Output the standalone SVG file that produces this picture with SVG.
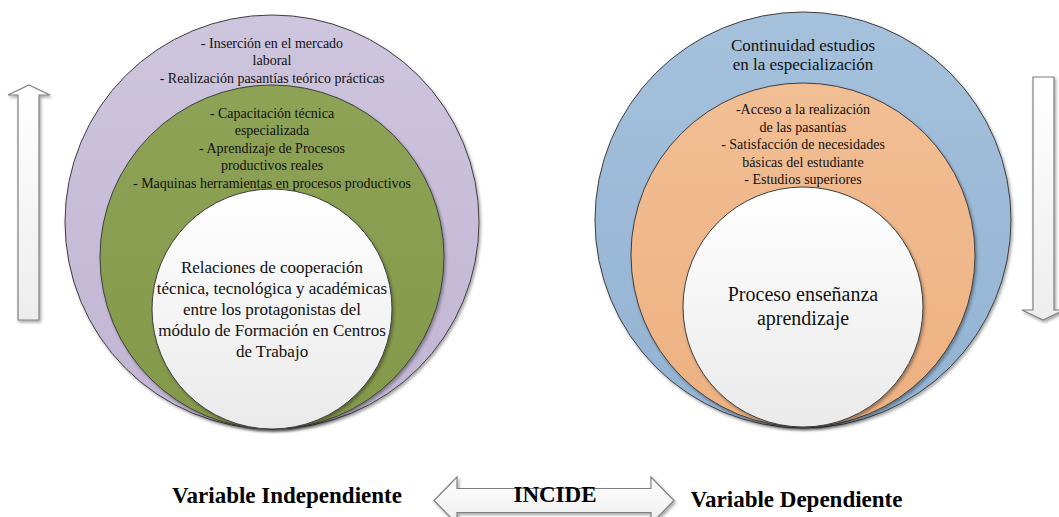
<svg xmlns="http://www.w3.org/2000/svg" width="1059" height="517" viewBox="0 0 1059 517">
<defs>
<linearGradient id="gPurple" x1="0" y1="0" x2="0" y2="1"><stop offset="0" stop-color="#CEC5DE"/><stop offset="1" stop-color="#C1B5D3"/></linearGradient>
<linearGradient id="gGreen" x1="0" y1="0" x2="0" y2="1"><stop offset="0" stop-color="#8FA357"/><stop offset="1" stop-color="#84984A"/></linearGradient>
<linearGradient id="gBlue" x1="0" y1="0" x2="0" y2="1"><stop offset="0" stop-color="#A5C1DC"/><stop offset="1" stop-color="#93B3D3"/></linearGradient>
<linearGradient id="gOrange" x1="0" y1="0" x2="0" y2="1"><stop offset="0" stop-color="#F2BE94"/><stop offset="1" stop-color="#EDB181"/></linearGradient>
<linearGradient id="gWhite" x1="0" y1="0" x2="0" y2="1"><stop offset="0" stop-color="#FFFFFF"/><stop offset="1" stop-color="#EAEAEA"/></linearGradient>
<linearGradient id="gArrowH" x1="0" y1="0" x2="1" y2="0"><stop offset="0" stop-color="#FFFFFF"/><stop offset="1" stop-color="#EDEDED"/></linearGradient>
<linearGradient id="gArrowV" x1="0" y1="0" x2="0" y2="1"><stop offset="0" stop-color="#FFFFFF"/><stop offset="1" stop-color="#EDEDED"/></linearGradient>
<filter id="shadow" x="-10%" y="-10%" width="120%" height="120%"><feDropShadow dx="1.5" dy="2" stdDeviation="1.5" flood-color="#000" flood-opacity="0.35"/></filter>
</defs>
<style>
.ring{stroke:#3F3F3F;stroke-width:1;filter:url(#shadow)}
.arrow{stroke:#7F7F7F;stroke-width:1.2;filter:url(#shadow)}
.t14{font-family:"Liberation Serif","Times New Roman",serif;font-size:14px;fill:#111;text-anchor:middle}
.t17{font-family:"Liberation Serif","Times New Roman",serif;font-size:17px;fill:#111;text-anchor:middle}
.t20{font-family:"Liberation Serif","Times New Roman",serif;font-size:20px;fill:#111;text-anchor:middle}
.tb{font-family:"Liberation Serif","Times New Roman",serif;font-size:23px;font-weight:bold;fill:#000;text-anchor:middle}
</style>
<rect width="1059" height="517" fill="#FFFFFF"/>

<g id="left-outer">
<circle class="ring" cx="272" cy="222" r="207" fill="url(#gPurple)"/>
<text class="t14" x="272" y="47.5">- Inserción en el mercado</text>
<text class="t14" x="272" y="65">laboral</text>
<text class="t14" x="272" y="82.5">- Realización pasantías teórico prácticas</text>
</g>
<g id="left-middle">
<circle class="ring" cx="272" cy="257" r="172" fill="url(#gGreen)"/>
<text class="t14" x="272" y="117.5">- Capacitación técnica</text>
<text class="t14" x="272" y="135">especializada</text>
<text class="t14" x="272" y="152.5">- Aprendizaje de Procesos</text>
<text class="t14" x="272" y="170">productivos reales</text>
<text class="t14" x="272" y="187.5">- Maquinas herramientas en procesos productivos</text>
</g>
<g id="left-inner">
<circle class="ring" cx="272" cy="309" r="120" fill="url(#gWhite)"/>
<text class="t17" x="272" y="273">Relaciones de cooperación</text>
<text class="t17" x="272" y="294">técnica, tecnológica y académicas</text>
<text class="t17" x="272" y="315">entre los protagonistas del</text>
<text class="t17" x="272" y="336">módulo de Formación en Centros</text>
<text class="t17" x="272" y="357">de Trabajo</text>
</g>

<g id="right-outer">
<circle class="ring" cx="803" cy="220" r="208" fill="url(#gBlue)"/>
<text class="t17" x="803" y="51">Continuidad estudios</text>
<text class="t17" x="803" y="70">en la especialización</text>
</g>
<g id="right-middle">
<circle class="ring" cx="803" cy="255" r="172" fill="url(#gOrange)"/>
<text class="t14" x="803" y="114">-Acceso a la realización</text>
<text class="t14" x="803" y="131.5">de las pasantías</text>
<text class="t14" x="803" y="149">- Satisfacción de necesidades</text>
<text class="t14" x="803" y="166.5">básicas del estudiante</text>
<text class="t14" x="803" y="184">- Estudios superiores</text>
</g>
<g id="right-inner">
<circle class="ring" cx="803" cy="307" r="120" fill="url(#gWhite)"/>
<text class="t20" x="803" y="300.5">Proceso enseñanza</text>
<text class="t20" x="803" y="325">aprendizaje</text>
</g>

<g id="connectors">
<path id="arrow-up" class="arrow" fill="url(#gArrowV)" d="M29,85 L50,95 L39,95 L39,320 L18,320 L18,95 L8,95 Z"/>
<path id="arrow-down" class="arrow" fill="url(#gArrowV)" d="M1033,77 L1054,77 L1054,310 L1064,310 L1043,320 L1022,310 L1033,310 Z"/>
<path id="arrow-incide" class="arrow" fill="url(#gArrowV)" d="M434,500.5 L457,477 L457,488.5 L651,488.5 L651,477 L674,500.5 L651,524 L651,512.5 L457,512.5 L457,524 Z"/>
</g>

<g id="labels">
<text class="tb" x="555" y="502">INCIDE</text>
<text class="tb" x="287" y="503">Variable Independiente</text>
<text class="tb" x="796.5" y="507">Variable Dependiente</text>
</g>
</svg>
